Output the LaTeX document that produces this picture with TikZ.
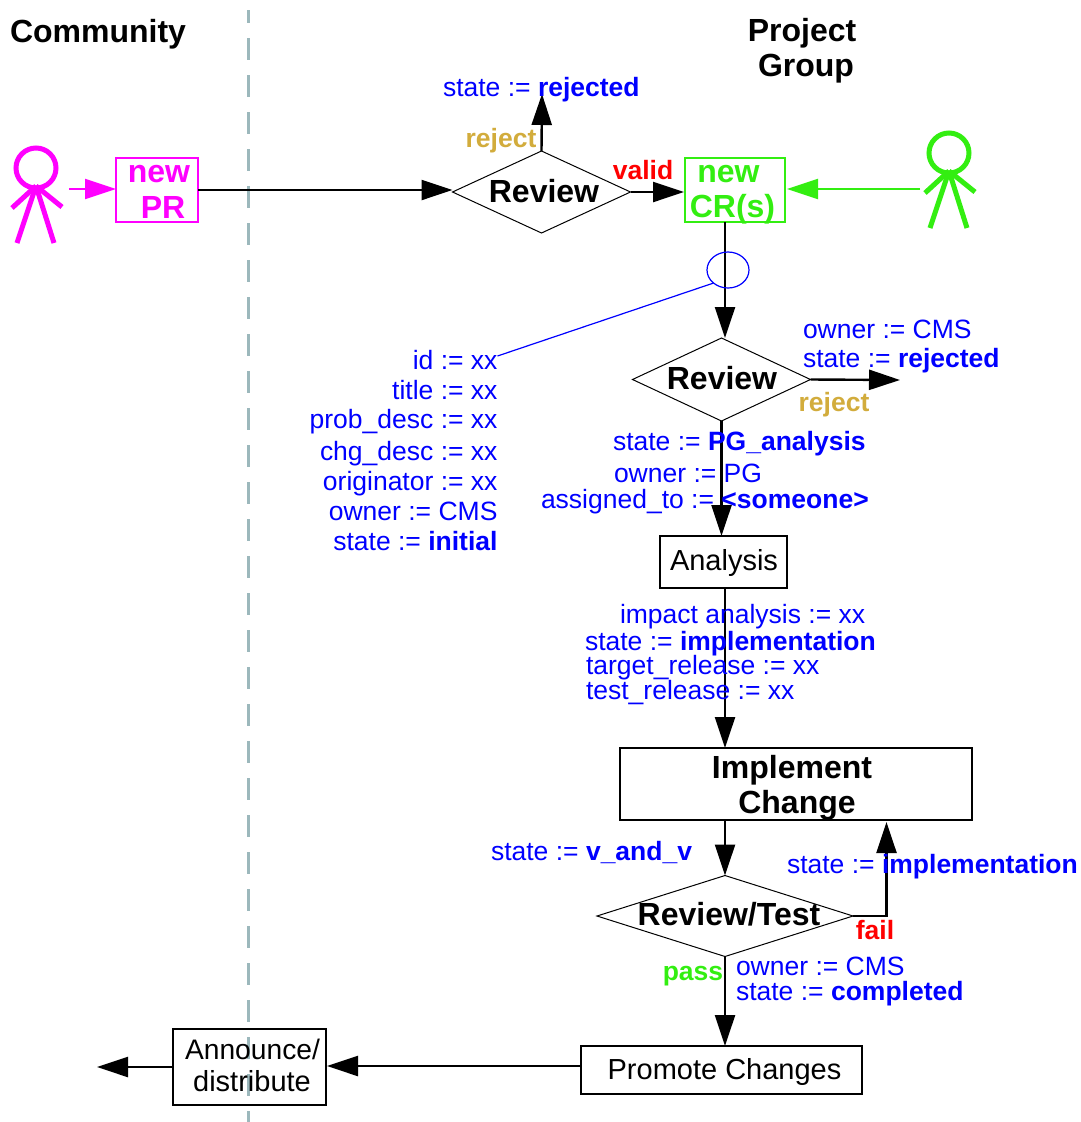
\documentclass[tikz,border=0pt]{standalone}
\usepackage{fontspec}
\setmainfont{Liberation Sans}
\usetikzlibrary{arrows.meta,shapes.geometric}
\definecolor{prpink}{RGB}{255,0,255}
\definecolor{crgreen}{RGB}{51,238,17}
\definecolor{rejgold}{RGB}{210,172,60}
\definecolor{lanegray}{RGB}{156,184,188}
\newcommand{\bigbold}{\fontsize{32}{32}\selectfont\bfseries}
\newcommand{\plainsize}{\fontsize{26.5}{26.5}\selectfont}
\newcommand{\boxsize}{\fontsize{29}{29}\selectfont}
\tikzset{every node/.style={inner sep=0pt, outer sep=0pt}}
\tikzset{flow/.style={line width=2.4pt, -{Triangle[length=31pt,width=20pt]}}}
\tikzset{boxnode/.style={draw, line width=2pt, rectangle}}
\tikzset{decide/.style={draw, line width=1pt, diamond}}
\tikzset{title/.style={font=\bigbold, anchor=base}}
\tikzset{boxtext/.style={font=\boxsize, anchor=base}}
\tikzset{assign/.style={font=\plainsize, text=blue}}
\tikzset{guard/.style={font=\plainsize\bfseries, anchor=base}}
\tikzset{actor/.pic={
    \draw[line width=5pt] (0,0) circle[radius=20];
    \draw[line width=5pt] (0,18) -- (-24,40);
    \draw[line width=5pt] (0,18) -- (26,39);
    \draw[line width=5pt] (0,18) -- (-19,75);
    \draw[line width=5pt] (0,18) -- (18,75);
}}

\begin{document}
\begin{tikzpicture}[x=1pt,y=-1pt]
    \useasboundingbox (0,0) rectangle (1080,1122);
    \draw[lanegray, line width=3pt, dash pattern=on 22pt off 15pt, dash phase=9pt] (248.3,10) -- (248.3,1122);

    \node[title,anchor=base west] (community) at (10,42) {Community};
    \node[title] (project) at (802,41) {Project};
    \node[title] (group) at (806,76) {Group};

    \path[prpink] (36,168) pic {actor};
    \path[crgreen] (949,153) pic {actor};

    \node[boxnode,line width=1.7pt,draw=prpink,minimum width=82pt,minimum height=64pt] (prbox) at (157,190) {};
    \node[title,text=prpink] (prnew) at (159,182) {new};
    \node[title,text=prpink] (prname) at (163,218) {PR};
    \node[boxnode,line width=1.7pt,draw=crgreen,minimum width=100pt,minimum height=64pt] (crbox) at (735,190) {};
    \node[title,text=crgreen] (crnew) at (728.5,182) {new};
    \node[title,text=crgreen] (crname) at (732.5,217) {CR(s)};

    \node[decide,minimum width=178pt,minimum height=82pt] (revtop) at (541.5,192) {};
    \node[title] (revtoptxt) at (544,202) {Review};
    \node[decide,minimum width=178pt,minimum height=83pt] (revmid) at (721.5,379.5) {};
    \node[title] (revmidtxt) at (722,389) {Review};
    \node[decide,minimum width=256pt,minimum height=81pt] (revtest) at (725,916) {};
    \node[title] (revtesttxt) at (729,925) {Review/Test};

    \node[boxnode,minimum width=127pt,minimum height=52pt] (analysis) at (723.5,562) {};
    \node[boxtext] (analysistxt) at (724,570.5) {Analysis};
    \node[boxnode,minimum width=352pt,minimum height=72pt] (implement) at (796,784) {};
    \node[title] (impltxt) at (792,778) {Implement};
    \node[title] (chgtxt) at (797,813) {Change};
    \node[boxnode,minimum width=281pt,minimum height=48pt] (promote) at (721.5,1070) {};
    \node[boxtext] (promotetxt) at (724.5,1079.5) {Promote Changes};
    \node[boxnode,minimum width=153pt,minimum height=76pt] (announce) at (249.5,1067) {};
    \node[boxtext,font=\fontsize{28.2}{28.2}\selectfont] (anntxt) at (252.5,1059.5) {Announce/};
    \node[boxtext] (distxt) at (252,1091.5) {distribute};

    \coordinate (pinkstart) at (69,189);
    \coordinate (greenstart) at (920,189);
    \coordinate (rejtoptip) at (542,94);
    \coordinate (rejmidtip) at (900,380);
    \coordinate (outtip) at (97,1067);

    \draw[flow,line width=2pt,prpink] (pinkstart) -- (pinkstart -| prbox.west);
    \draw[flow,line width=2pt,crgreen] (greenstart) -- ([xshift=2pt]greenstart -| crbox.east);
    \draw[flow] (prbox.east) -- (prbox.east -| revtop.west);
    \draw[flow] (revtop.north) -- (rejtoptip);
    \draw[flow] (revtop.east) -- ([xshift=-1pt]revtop.east -| crbox.west);
    \draw[flow] ([xshift=-10pt]crbox.south) -- ([xshift=-10pt]crbox.south |- revmid.north);
    \draw[flow] (revmid.east) -- (rejmidtip);
    \draw[flow] (revmid.south) -- (revmid.south |- analysis.north);
    \draw[flow] ([xshift=1.5pt]analysis.south) -- ([xshift=1.5pt]analysis.south |- implement.north);
    \draw[flow] (implement.south -| revtest.north) -- (revtest.north);
    \draw[flow] (revtest.east) -| ([shift={(-85.5pt,-2pt)}]implement.south east);
    \draw[flow] (revtest.south) -- (revtest.south |- promote.north);
    \draw[flow] (promote.west |- 0,1066) -- ([xshift=1pt]announce.east |- 0,1066);
    \draw[flow] (announce.west) -- (outtip);

    \node[draw=blue,line width=1.2pt,ellipse,minimum width=42pt,minimum height=36pt] (tap) at (728,270) {};
    \foreach \name/\ypos/\txt in {
        id/369/{id := xx},
        title/399/{title := xx},
        prob/428/{prob\_desc := xx},
        chg/460/{chg\_desc := xx},
        orig/490/{originator := xx},
        own/520/{owner := CMS},
        init/550/{state := \textbf{initial}}}
      \node[assign,anchor=base east] (lbl\name) at (497.5,\ypos) {\txt};
    \draw[blue,line width=1.2pt] (tap.222) -- ([yshift=13pt]lblid.base east);

    \node[assign,anchor=base west] (sttoprej) at (443,96) {state := \textbf{rejected}};
    \node[assign,anchor=base west] (ownmid) at (803,338) {owner := CMS};
    \node[assign,anchor=base west] (stmidrej) at (803,367) {state := \textbf{rejected}};
    \node[assign,anchor=base west] (stpg) at (613,450) {state := \textbf{PG\_analysis}};
    \node[assign,anchor=base west] (ownpg) at (614,482) {owner := PG};
    \node[assign,anchor=base west] (assigned) at (541,508) {assigned\_to := \textbf{<someone>}};
    \node[assign,anchor=base west] (impact) at (620,623) {impact analysis := xx};
    \node[assign,anchor=base west] (stimpl) at (585,650) {state := \textbf{implementation}};
    \node[assign,anchor=base west] (target) at (586,674) {target\_release := xx};
    \node[assign,anchor=base west] (testrel) at (586,699) {test\_release := xx};
    \node[assign,anchor=base west] (stvv) at (491,860) {state := \textbf{v\_and\_v}};
    \node[assign,anchor=base west] (stfail) at (787,873) {state := \textbf{implementation}};
    \node[assign,anchor=base west] (owncms) at (736,975) {owner := CMS};
    \node[assign,anchor=base west] (stdone) at (736,1000) {state := \textbf{completed}};

    \node[guard,text=rejgold] (rejtop) at (501,147) {reject};
    \node[guard,text=red] (valid) at (643,179) {valid};
    \node[guard,text=rejgold] (rejmid) at (834,411) {reject};
    \node[guard,text=red] (fail) at (875,939) {fail};
    \node[guard,text=crgreen] (pass) at (693,980) {pass};
  \end{tikzpicture}
\end{document}
